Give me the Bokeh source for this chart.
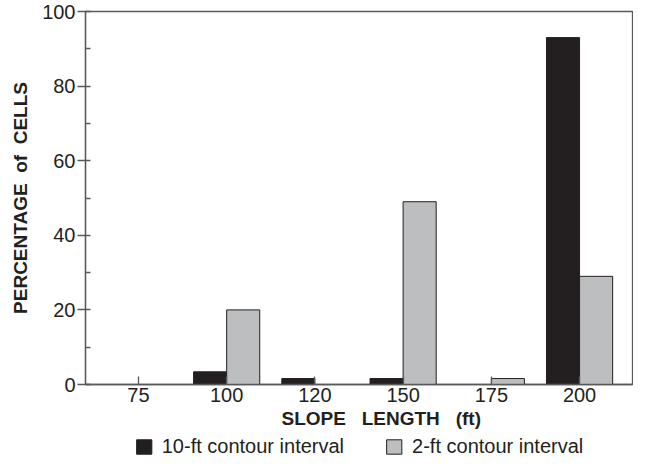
from bokeh.plotting import figure
from bokeh.layouts import column
from bokeh.models import (ColumnDataSource, FixedTicker, SingleIntervalTicker,
                          Range1d, Legend, LegendItem, Title)
from bokeh.transform import dodge
from bokeh.embed import file_html
from bokeh.resources import INLINE

categories = ["75", "100", "120", "150", "175", "200"]
ten_ft = [0, 3.4, 1.6, 1.6, 0, 93]
two_ft = [0, 20, 0, 49, 1.6, 29]
series_names = ["10-ft contour interval", "2-ft contour interval"]

idx = list(range(len(categories)))
src = ColumnDataSource(dict(x=idx, ten=ten_ft, two=two_ft))

FONT = "Liberation Sans"
INK = "#231f20"
GREY = "#bcbec0"
AXC = "#58595b"
NB = "\u00a0"

p = figure(width=633, height=434, output_backend="svg", toolbar_location=None,
           x_range=Range1d(-0.6, 5.6), y_range=Range1d(0, 100),
           min_border_left=85, min_border_right=1, min_border_top=11,
           min_border_bottom=50)
p.background_fill_color = "white"
p.border_fill_color = "white"
p.outline_line_color = AXC
p.outline_line_width = 1.3
p.grid.visible = False

bw = 0.375
r1 = p.vbar(x=dodge("x", -bw / 2, range=p.x_range), top="ten", width=bw, bottom=0,
            source=src, fill_color=INK, line_color=INK, line_width=1)
r2 = p.vbar(x=dodge("x", bw / 2, range=p.x_range), top="two", width=bw, bottom=0,
            source=src, fill_color=GREY, line_color=INK, line_width=1)

xa = p.xaxis[0]
xa.ticker = FixedTicker(ticks=idx)
xa.major_label_overrides = {i: c for i, c in zip(idx, categories)}
xa.major_tick_in = 8
xa.major_tick_out = 0
xa.minor_tick_in = 0
xa.minor_tick_out = 0
xa.axis_line_color = AXC
xa.axis_line_width = 1.3
xa.major_tick_line_color = AXC
xa.major_tick_line_width = 1.3
xa.major_label_text_font = FONT
xa.major_label_text_font_size = "20px"
xa.major_label_text_color = INK
xa.major_label_standoff = 3

xtitle = Title(text=f"SLOPE{NB*3}LENGTH{NB*3}(ft)", align="left", offset=196,
               text_font=FONT, text_font_style="bold", text_font_size="19px",
               text_color=INK, standoff=2)
p.add_layout(xtitle, "below")

ya = p.yaxis[0]
ya.ticker = SingleIntervalTicker(interval=20, num_minor_ticks=2)
ya.major_tick_in = 0
ya.major_tick_out = 8
ya.minor_tick_in = 5
ya.minor_tick_out = 0
ya.axis_line_color = AXC
ya.axis_line_width = 1.3
ya.major_tick_line_color = AXC
ya.major_tick_line_width = 1.3
ya.minor_tick_line_color = AXC
ya.minor_tick_line_width = 1.3
ya.major_label_text_font = FONT
ya.major_label_text_font_size = "20px"
ya.major_label_text_color = INK
ya.major_label_standoff = 2
ya.axis_label = f"PERCENTAGE{NB}{NB}of{NB}{NB}CELLS"
ya.axis_label_text_font = FONT
ya.axis_label_text_font_style = "bold"
ya.axis_label_text_font_size = "19px"
ya.axis_label_text_color = INK
ya.axis_label_standoff = 8

# legend strip below the chart (its renderers are hidden; only the
# legend swatches are seen)
lg = figure(width=633, height=24, output_backend="svg", toolbar_location=None,
            x_range=Range1d(100, 101), y_range=Range1d(200, 201),
            x_axis_location=None, y_axis_location=None,
            min_border=0, min_border_left=0, min_border_right=0,
            min_border_top=0, min_border_bottom=0)
lg.outline_line_color = None
lg.grid.visible = False
lg.background_fill_color = "white"
lg.border_fill_color = "white"
e1 = lg.vbar(x="x", top="ten", width=bw, source=src,
             fill_color=INK, line_color=INK, line_width=1)
e2 = lg.vbar(x="x", top="two", width=bw, source=src,
             fill_color=GREY, line_color=INK, line_width=1)
e1.visible = False
e2.visible = False
legend = Legend(items=[LegendItem(label=series_names[0], renderers=[e1]),
                       LegendItem(label=series_names[1], renderers=[e2])],
                orientation="horizontal", location="center",
                border_line_color=None, background_fill_alpha=0,
                inactive_fill_alpha=0,
                label_text_font=FONT, label_text_font_size="20px",
                label_text_color=INK, glyph_width=19, glyph_height=18,
                label_standoff=9, spacing=40, padding=0, margin=0,
                label_height=18)
lg.add_layout(legend, "center")

layout = column(p, lg, spacing=0)
open("out.html", "w").write(file_html(layout, INLINE))
